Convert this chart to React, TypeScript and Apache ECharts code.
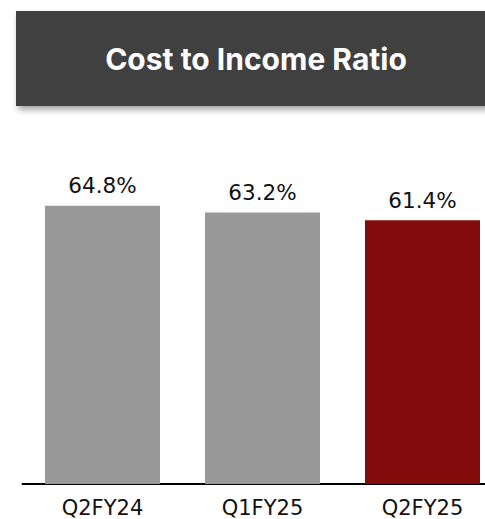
import React, { useEffect, useRef } from "react";
import * as echarts from "echarts";

const categories = ["Q2FY24", "Q1FY25", "Q2FY25"];
const values = [64.8, 63.2, 61.4];
const barColors = ["#999999", "#999999", "#820b0b"];
const titleText = "Cost to Income Ratio";

export default function App() {
  const ref = useRef<HTMLDivElement>(null);
  useEffect(() => {
    document.body.style.margin = "0";
    const chart = echarts.init(ref.current!, null, { renderer: "svg" });
    chart.setOption({
      animation: false,
      backgroundColor: "#ffffff",
      graphic: [
        {
          type: "rect",
          shape: { x: 16, y: 11, width: 490, height: 95 },
          style: {
            fill: "#404040",
            shadowBlur: 6,
            shadowOffsetY: 4,
            shadowOffsetX: 2,
            shadowColor: "rgba(0,0,0,0.35)",
          },
          z: 10,
        },
        {
          type: "text",
          x: 256,
          y: 59,
          z: 11,
          style: {
            text: titleText,
            fill: "#ffffff",
            font: "bold 30px Inter, 'Open Sans', sans-serif",
            align: "center",
            verticalAlign: "middle",
          },
        },
      ],
      grid: { left: 22.5, top: 54.5, width: 480, height: 429.5, containLabel: false },
      xAxis: {
        type: "category",
        data: categories,
        axisLine: { show: true, lineStyle: { color: "#000000", width: 2 } },
        axisTick: { show: false },
        axisLabel: {
          color: "#111111",
          fontSize: 21,
          fontFamily: "'DejaVu Sans', sans-serif",
          margin: 13,
        },
      },
      yAxis: {
        type: "value",
        min: 0,
        max: 100,
        show: false,
        splitLine: { show: false },
      },
      series: [
        {
          type: "bar",
          data: values.map((v, i) => ({ value: v, itemStyle: { color: barColors[i] } })),
          barWidth: 115,
          label: {
            show: true,
            position: "top",
            distance: 9,
            formatter: (p: any) => p.value.toFixed(1) + "%",
            color: "#111111",
            fontSize: 21.5,
            fontFamily: "'DejaVu Sans', sans-serif",
          },
        },
      ],
    });
    return () => chart.dispose();
  }, []);
  return (
    <div style={{ position: "absolute", left: 0, top: 0, width: 485, height: 519, overflow: "hidden" }}>
      <div ref={ref} style={{ width: 510, height: 519 }} />
    </div>
  );
}
